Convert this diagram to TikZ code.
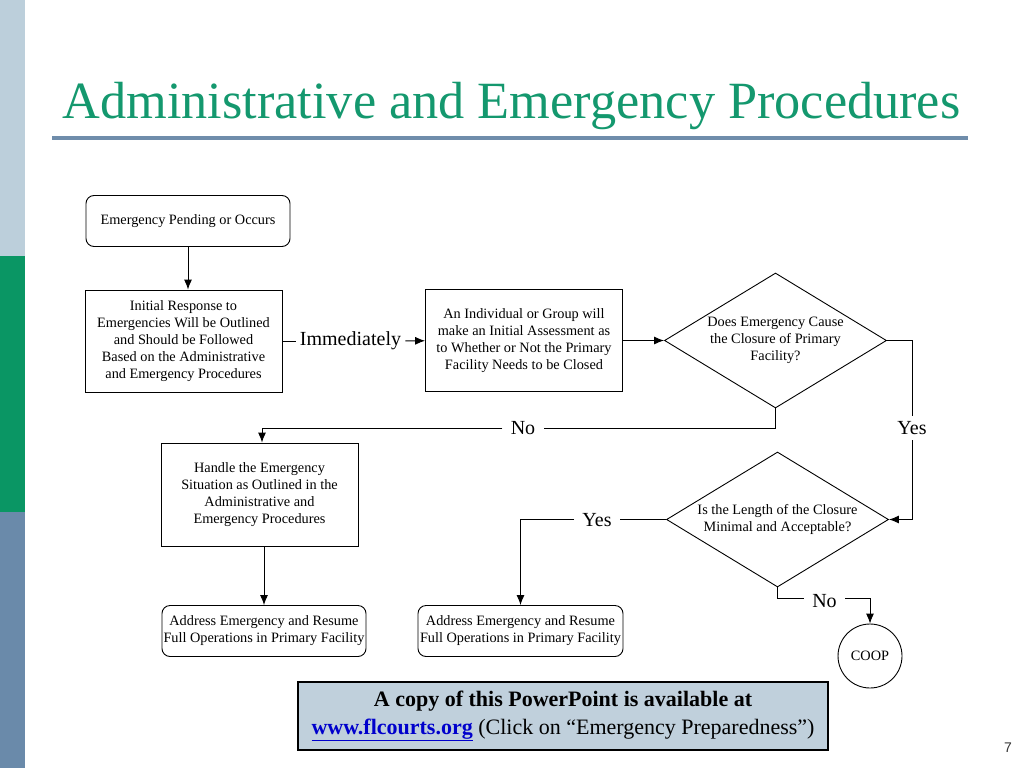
\documentclass[tikz,border=0pt]{standalone}
\usepackage{fontspec}
\setmainfont{Liberation Serif}
\setsansfont{Liberation Sans}
\usepackage{tikz}
\usetikzlibrary{arrows,arrows.meta,shapes,positioning,calc}

\definecolor{barlight}{RGB}{188,207,219}
\definecolor{bargreen}{RGB}{10,150,100}
\definecolor{barslate}{RGB}{106,138,170}
\definecolor{titlegreen}{RGB}{20,152,110}
\definecolor{rulecolor}{RGB}{111,141,171}
\definecolor{bannerfill}{RGB}{192,208,220}
\definecolor{linkblue}{RGB}{0,0,204}

\begin{document}
\begin{tikzpicture}[x=1pt,y=-1pt,
	flow/.style={-{Latex[length=10pt,width=8pt]}},
	every path/.style={line width=0.9pt},
	chart/.style={font=\fontsize{14.3}{17}\selectfont,align=center},
	box/.style={chart,draw,minimum width=197,minimum height=102,inner sep=2pt},
	roundbox/.style={chart,draw,rounded corners=8pt,minimum height=51,inner sep=1pt},
	decision/.style={chart,draw,diamond,shape aspect=1.637,minimum width=222,minimum height=135,inner sep=-8pt},
	answer/.style={font=\fontsize{20}{24}\selectfont,inner xsep=8pt,inner ysep=2pt}]
	\useasboundingbox (0,0) rectangle (1024,768);

	% side bar and title
	\fill[barlight] (0,0) rectangle (25,256);
	\fill[bargreen] (0,256) rectangle (25,512);
	\fill[barslate] (0,512) rectangle (25,768);
	\node[anchor=base west,inner sep=0,text=titlegreen,font=\fontsize{52.3}{60}\selectfont] (title) at (62,118) {Administrative and Emergency Procedures};
	\fill[rulecolor] (52,136) rectangle (968,140);

	% boxes
	\node[roundbox,minimum width=204] at (188,221) (start) {Emergency Pending or Occurs};
	\node[box] at (183.5,341) (init) {Initial Response to\\Emergencies Will be Outlined\\and Should be Followed\\Based on the Administrative\\and Emergency Procedures};
	\node[box] at (524,340.5) (assess) {An Individual or Group will\\make an Initial Assessment as\\to Whether or Not the Primary\\Facility Needs to be Closed};
	\node[decision] at (775.5,340.5) (closure) {Does Emergency Cause\\the Closure of Primary\\Facility?};
	\node[box,minimum height=103] at (259.5,494.5) (handle) {Handle the Emergency\\Situation as Outlined in the\\Administrative and\\Emergency Procedures};
	\node[decision] at (777.5,519.5) (length) {Is the Length of the Closure\\Minimal and Acceptable?};
	\node[roundbox,minimum width=204] at (264,631) (resumeA) {Address Emergency and Resume\\Full Operations in Primary Facility};
	\node[roundbox,minimum width=205] at (520.5,631) (resumeB) {Address Emergency and Resume\\Full Operations in Primary Facility};
	\node[chart,draw,circle,minimum size=64,inner sep=0] at (870,656) (coop) {COOP};

	% labels on the connectors
	\node[answer,inner xsep=4pt] at (350.5,341) (imm) {Immediately};
	\node[answer] at (523,428) (noA) {No};
	\node[answer,inner ysep=5pt] at (912,428) (yesA) {Yes};
	\node[answer] at (597,520) (yesB) {Yes};
	\node[answer] at (824.5,601) (noB) {No};

	% connectors
	\draw[flow] (start.south) -- (start.south |- init.north);
	\draw (init) -- (imm);
	\draw[flow] (imm) -- (assess);
	\draw[flow] (assess) -- (closure);
	\draw (closure.south) |- (noA.east);
	\draw[flow] (noA.west) -| ([xshift=2.5pt]handle.north);
	\draw (closure.east) -| (yesA.north);
	\draw[flow] (yesA.south) |- (length.east);
	\draw (length.west) -- (length.west -| yesB.east);
	\draw[flow] (length.west -| yesB.west) -| (resumeB.north);
	\draw (length.south) |- ([yshift=3pt]noB.west);
	\draw[flow] ([yshift=3pt]noB.east) -| (coop.north);
	\draw[flow] (resumeA.north |- handle.south) -- (resumeA.north);

	% banner and page number
	\node[draw,line width=2pt,fill=bannerfill,minimum width=530,minimum height=68,align=center,font=\fontsize{22}{28}\selectfont] at (563,716) (banner) {\textbf{A copy of this PowerPoint is available at}\\\textcolor{linkblue}{\underline{\textbf{www.flcourts.org}}} (Click on ``Emergency Preparedness'')};
	\node[font=\sffamily\fontsize{14}{16}\selectfont,text=black!80] at (1008,748) (page) {7};
\end{tikzpicture}
\end{document}
